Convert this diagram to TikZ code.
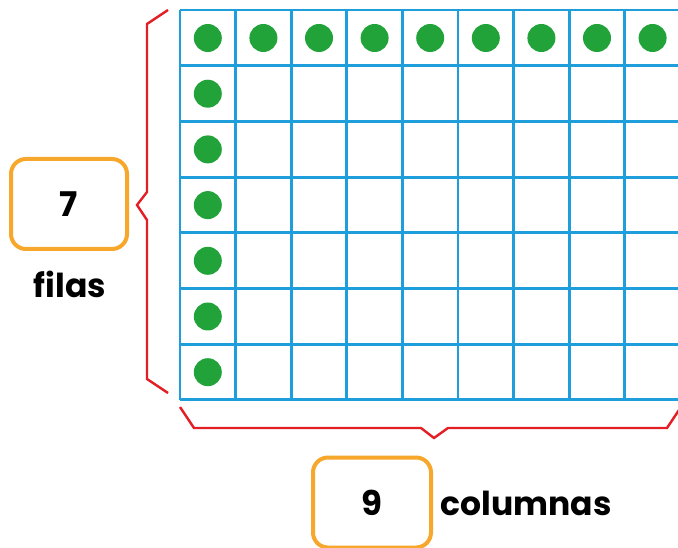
\documentclass[tikz,border=0pt]{standalone}
\usepackage{fontspec}
\setmainfont{Poppins}
\definecolor{gridblue}{HTML}{1E9FDB}
\definecolor{dotgreen}{HTML}{21A33A}
\definecolor{bracered}{HTML}{E31E24}
\definecolor{boxorange}{HTML}{F7A82C}
\begin{document}
\begin{tikzpicture}[x=1pt,y=-1pt,
  gridline/.style={gridblue,line width=2.9pt},
  dotmark/.style={circle,fill=dotgreen,minimum size=28pt,inner sep=0pt},
  bracket/.style={bracered,line width=2.4pt,line join=miter},
  numbox/.style={draw=boxorange,line width=4pt,rounded corners=15pt,minimum width=116pt,minimum height=90pt,font=\fontsize{34}{34}\selectfont\bfseries},
  lbl/.style={font=\fontsize{33}{33}\selectfont\bfseries}]
\useasboundingbox (0,0) rectangle (678,548);
\begin{scope}
\clip (0,0) rectangle (678,548);
% grid
\foreach \i in {0,...,7}{
  \draw[gridline] (180,{10+\i*55.7}) -- (690,{10+\i*55.7});
}
\foreach \j in {0,...,9}{
  \draw[gridline] ({180+\j*55.6},10) -- ({180+\j*55.6},400);
}
% dots
\foreach \j in {0,...,8}{
  \node[dotmark] (t\j) at ({207.8+\j*55.6},38) {};
}
\foreach \i in {1,...,6}{
  \node[dotmark] (l\i) at (207.8,{38+\i*55.7}) {};
}
% brackets
\draw[bracket] (168,10) -- (147,24) -- (147,192) -- (137,205) -- (147,220) -- (147,379) -- (168,393);
\draw[bracket] (180,407) -- (194,428) -- (421,428) -- (434,438) -- (448,428) -- (667,428) -- (681,407);
% boxes
\node[numbox] (b7) at (69,204) {7};
\node[numbox,minimum width=118pt] (b9) at (372,502.5) {9};
\end{scope}
\node[lbl] (filas) at (70,284) {filas};
\node[lbl,anchor=west] (col) at (437,503) {columnas};
\end{tikzpicture}
\end{document}
